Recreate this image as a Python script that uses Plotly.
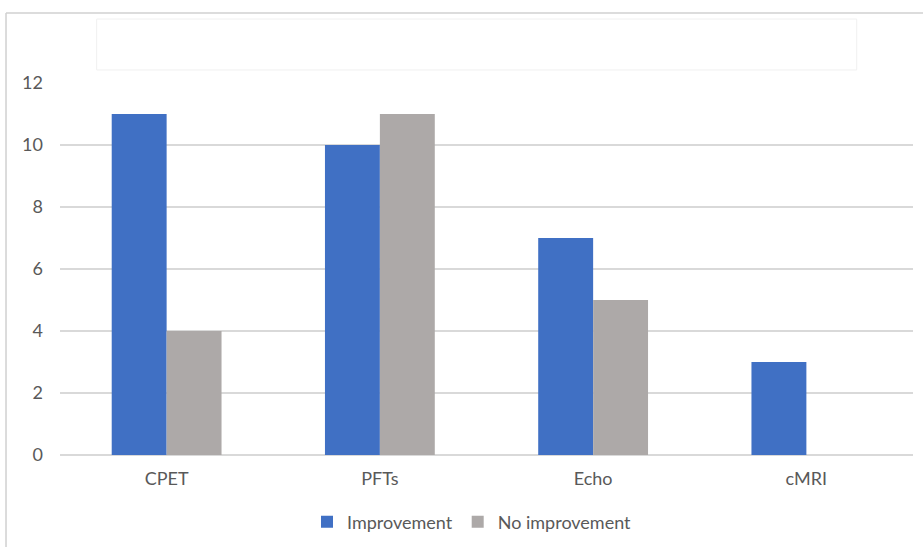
import plotly.graph_objects as go

# Data
categories = ["CPET", "PFTs", "Echo", "cMRI"]
improvement = [11, 10, 7, 3]
no_improvement = [4, 11, 5, 0]
y_ticks = [0, 2, 4, 6, 8, 10, 12]

BLUE = "#4070C4"
GRAY = "#ADA9A8"
FONT = "Lato, Open Sans, Arial, sans-serif"

fig = go.Figure()
fig.add_trace(go.Bar(name="Improvement", x=categories, y=improvement,
                     marker=dict(color=BLUE, line=dict(width=0))))
fig.add_trace(go.Bar(name="No improvement", x=categories, y=no_improvement,
                     marker=dict(color=GRAY, line=dict(width=0))))

fig.update_layout(
    width=923, height=547,
    margin=dict(l=60, r=10, t=83, b=92, autoexpand=False),
    paper_bgcolor="white", plot_bgcolor="white",
    barmode="group", bargap=0.485, bargroupgap=0,
    font=dict(family=FONT, size=18, color="#595959"),
    showlegend=True,
    legend=dict(orientation="h", x=0.483, xanchor="center", y=-0.18, yanchor="middle",
                font=dict(size=18, color="#595959"), itemwidth=30, traceorder="normal"),
    xaxis=dict(showgrid=False, showline=False, ticks="", tickfont=dict(size=18),
               ticklabelstandoff=11),
    yaxis=dict(range=[0, 12], tickvals=y_ticks, showgrid=True, gridcolor="#D9D9D9",
               gridwidth=1.5, zeroline=True, zerolinecolor="#D9D9D9", zerolinewidth=1.5,
               showline=False, ticks="", tickfont=dict(size=18), ticklabelstandoff=16),
    shapes=[
        # outer chart frame (left and top edges)
        dict(type="line", xref="paper", yref="paper", x0=-0.0633, x1=-0.0633,
             y0=1.188, y1=-0.3, line=dict(color="#D0D0D0", width=1.5)),
        dict(type="line", xref="paper", yref="paper", x0=-0.0633, x1=1.02,
             y0=1.188, y1=1.188, line=dict(color="#D0D0D0", width=1.5)),
        # empty title placeholder box
        dict(type="rect", xref="paper", yref="paper", x0=0.043, x1=0.934,
             y0=1.035, y1=1.172, line=dict(color="#F0F0F0", width=1)),
    ],
)

fig.write_html("out.html")
